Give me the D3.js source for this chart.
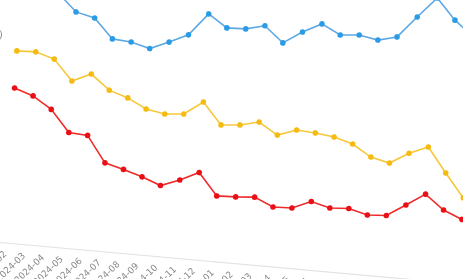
<!DOCTYPE html>
<html lang="en">
<head>
<meta charset="utf-8">
<title>Monthly trend</title>
<script src="https://d3js.org/d3.v7.min.js"></script>
<style>
  body { margin: 0; background: #fff; }
  svg { display: block; filter: blur(0.35px); }
  .tick text { fill: #8a8a8a; font-family: "DejaVu Sans", sans-serif; font-size: 9px; }
</style>
</head>
<body>
<svg id="chart"></svg>
<script>
  // months on the x axis
  const months = ['2024-02','2024-03','2024-04','2024-05','2024-06','2024-07','2024-08',
    '2024-09','2024-10','2024-11','2024-12','2025-01','2025-02','2025-03','2025-04',
    '2025-05','2025-06','2025-07','2025-08','2025-09','2025-10','2025-11','2025-12',
    '2026-01','2026-02'];

  // values (blue top, yellow middle, red bottom)
  const blueVals = [110.4, 108.3, 105.1, 97.9, 96.1, 88.1, 87.5, 85.5, 88.9, 92.6, 102.0, 96.9, 97.2,
    99.2, 92.8, 98.0, 102.1, 98.2, 98.9, 97.5, 99.5, 108.5, 117.1, 108.6, 102.5];
  const yellowVals = [79.6, 79.9, 77.6, 69.2, 72.8, 66.8, 64.3, 60.4, 59.0, 59.7, 65.4, 56.6, 57.3,
    59.2, 54.5, 57.3, 56.8, 55.8, 53.6, 48.9, 47.1, 51.9, 55.2, 45.1, 35.4];
  const redVals = [64.2, 61.6, 56.7, 47.8, 47.3, 36.6, 34.6, 32.2, 29.3, 32.3, 36.1, 27.1, 27.4,
    28.0, 24.6, 24.9, 28.3, 26.3, 26.8, 24.8, 25.3, 30.4, 35.6, 29.7, 26.5];

  const w = 463;
  const h = 279;
  const axisY = 240.7;

  const svg = d3.select('#chart')
      .attr('width', w)
      .attr('height', h);

  // the photo is seen slightly at an angle, so shear the whole plot
  const g = svg.append('g')
      .attr('transform', 'matrix(1,0.09,-0.06,1,0,0)');

  const x = d3.scalePoint()
      .domain(months)
      .range([10.3, 482])
      .padding(0.5);

  const y = d3.scaleLinear()
      .domain([0, 100])
      .range([axisY, 0]);

  const xAxis = g.append('g')
      .attr('transform', `translate(0,${axisY})`)
      .call(d3.axisBottom(x).tickSize(0).tickSizeOuter(0).tickPadding(0));

  xAxis.select('.domain').attr('stroke', '#e2e2e2').attr('stroke-width', 1.2);
  xAxis.selectAll('.tick text')
      .attr('y', 0)
      .attr('dy', 0)
      .attr('text-anchor', 'end')
      .attr('transform', 'translate(2,12) rotate(-48)');

  // unit name at the left edge, mostly cut off
  g.append('text')
      .attr('x', 5)
      .attr('y', 38)
      .attr('text-anchor', 'end')
      .attr('fill', '#8a8a8a')
      .style('font-family', '"DejaVu Sans", sans-serif')
      .style('font-size', '10px')
      .text('(%)');

  const series = [
    {name: 'blue', values: blueVals, line: '#5ea8e4', dot: '#2b9be6'},
    {name: 'yellow', values: yellowVals, line: '#f7c73a', dot: '#f5bb10'},
    {name: 'red', values: redVals, line: '#ee2a2a', dot: '#ea0f15'}
  ];

  const line = d3.line()
      .x((d, i) => x(months[i]))
      .y(d => y(d));

  series.forEach(s => {
    g.append('path')
        .datum(s.values)
        .attr('fill', 'none')
        .attr('stroke', s.line)
        .attr('stroke-width', 1.6)
        .attr('d', line);

    g.selectAll('.dot-' + s.name)
        .data(s.values)
        .enter()
        .append('circle')
        .attr('class', 'dot-' + s.name)
        .attr('cx', (d, i) => x(months[i]))
        .attr('cy', d => y(d))
        .attr('r', 2.8)
        .attr('fill', s.dot);
  });
</script>
</body>
</html>
